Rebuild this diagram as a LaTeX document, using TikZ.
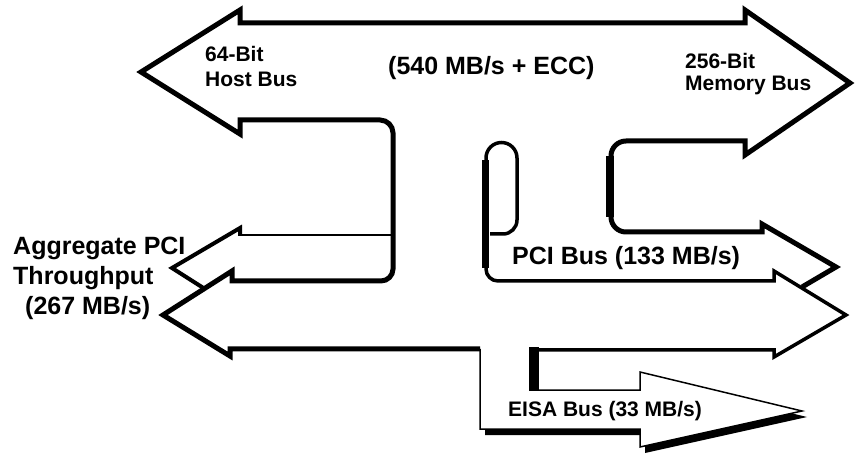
\documentclass[tikz,border=0pt]{standalone}
\usepackage{fontspec}
\setmainfont{Liberation Sans}
\begin{document}
\begin{tikzpicture}[x=1pt,y=-1pt, line join=miter, miter limit=10,
  outl/.style={line width=5pt},
  thinl/.style={line width=2pt},
  eisal/.style={line width=1.5pt},
  bigtxt/.style={font=\fontsize{25}{30}\selectfont\bfseries, inner sep=0pt, anchor=base west},
  smalltxt/.style={font=\fontsize{21}{25}\selectfont\bfseries, inner sep=0pt, anchor=base west}]
\useasboundingbox (0,0) rectangle (857,454);

% EISA bus arrow: shadow, white body, outline
\fill[black] (485,435) -- (645,435) -- (645,453) -- (807,417) -- (645,378) -- (645,396) -- (485,396) -- cycle;
\fill[white] (480,349) -- (534,349) -- (534,390) -- (640,390) -- (640,372) -- (802,411) -- (640,447) -- (640,429) -- (480,429) -- cycle;
\draw[eisal] (534,390) -- (640,390) -- (640,372) -- (802,411) -- (640,447) -- (640,429) -- (480,429) -- (480,349);
\fill[black] (529,347) rectangle (539,391);

% main outline: host/memory bus and aggregate arrows
\draw[outl] (480,349) -- (230,349) -- (230,356) -- (163,315) -- (232,271) -- (232,281) -- (381,281)
  arc[start angle=90,end angle=0,radius=12] -- (393,133)
  arc[start angle=0,end angle=-90,radius=13] -- (240,120) -- (240,134) -- (141,72) -- (240,10) -- (240,23)
  -- (745,23) -- (745,10) -- (850,83) -- (745,155) -- (745,141) -- (626,141)
  arc[start angle=270,end angle=180,radius=15] -- (611,217)
  arc[start angle=180,end angle=90,radius=15] -- (762,232) -- (762,224) -- (836,267) -- (802,287);
\draw[line width=8pt] (610,156) -- (610,217);

% upper-left aggregate arrow
\draw[thinl] (240,235) -- (393,235);
\draw[line width=4pt] (240,236) -- (240,228) -- (172,268) -- (205,289);

% hairpin and PCI bus band
\draw[line width=3.5pt] (490,234) -- (503,234)
  arc[start angle=90,end angle=0,radius=14] -- (517,158)
  arc[start angle=0,end angle=-180,radius=15.5] -- (486,269)
  arc[start angle=180,end angle=90,radius=12] -- (774,281) -- (774,271) -- (846,315) -- (774,357) -- (774,350) -- (534,350);
\draw[line width=7pt] (485,160) -- (485,268);

% labels
\node[smalltxt] (hb1) at (205,62) {64-Bit};
\node[smalltxt] (hb2) at (205,86.5) {Host Bus};
\node[bigtxt] (ecc) at (388,75) {(540 MB/s + ECC)};
\node[smalltxt] (mb1) at (685,68.5) {256-Bit};
\node[smalltxt] (mb2) at (685,90.5) {Memory Bus};
\node[bigtxt] (ag1) at (13,255) {Aggregate PCI};
\node[bigtxt] (ag2) at (13,285) {Throughput};
\node[bigtxt] (ag3) at (25,315) {(267 MB/s)};
\node[bigtxt] (pci) at (512,265) {PCI Bus (133 MB/s)};
\node[smalltxt] (eisa) at (508,416.5) {EISA Bus (33 MB/s)};
\end{tikzpicture}
\end{document}
